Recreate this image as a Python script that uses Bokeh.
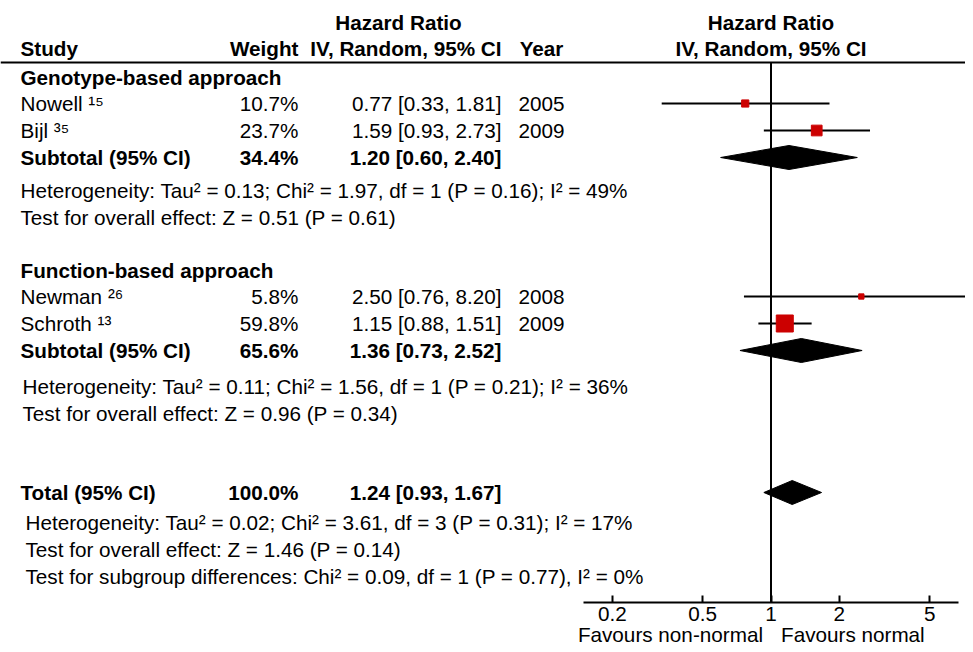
from bokeh.plotting import figure
from bokeh.layouts import column
from bokeh.models import (Range1d, LogScale, LogAxis, FixedTicker, NumeralTickFormatter, Span)
from bokeh.core.properties import value
from bokeh.embed import file_html
from bokeh.resources import INLINE

# ---------------- data ----------------
groups = ["Genotype-based approach", "Function-based approach"]
studies = ["Nowell", "Bijl", "Newman", "Schroth"]
refs = ["15", "35", "26", "13"]
weights = [10.7, 23.7, 5.8, 59.8]
hr = [0.77, 1.59, 2.50, 1.15]
lo = [0.33, 0.93, 0.76, 0.88]
hi = [1.81, 2.73, 8.20, 1.51]
years = ["2005", "2009", "2008", "2009"]

pooled_labels = ["Subtotal (95% CI)", "Subtotal (95% CI)", "Total (95% CI)"]
pooled_weights = [34.4, 65.6, 100.0]
pooled_hr = [1.20, 1.36, 1.24]
pooled_lo = [0.60, 0.73, 0.93]
pooled_hi = [2.40, 2.52, 1.67]

heterogeneity = [
    "Heterogeneity: Tau² = 0.13; Chi² = 1.97, df = 1 (P = 0.16); I² = 49%",
    "Heterogeneity: Tau² = 0.11; Chi² = 1.56, df = 1 (P = 0.21); I² = 36%",
    "Heterogeneity: Tau² = 0.02; Chi² = 3.61, df = 3 (P = 0.31); I² = 17%",
]
overall_effect = [
    "Test for overall effect: Z = 0.51 (P = 0.61)",
    "Test for overall effect: Z = 0.96 (P = 0.34)",
    "Test for overall effect: Z = 1.46 (P = 0.14)",
]
subgroup_test = "Test for subgroup differences: Chi² = 0.09, df = 1 (P = 0.77), I² = 0%"

tick_values = [0.2, 0.5, 1, 2, 5]
favours = ["Favours non-normal", "Favours normal"]

# ---------------- layout (screen-pixel coordinates) ----------------
W = 965
AXIS_Y = 602
X_ONE = 770.5
PX_DECADE = 227.0
FONT = value("Liberation Sans")
FS = value("20.7px")

y_title, y_head, y_rule = 22, 48, 62
y_group = [77, 270]
y_study = [103, 130, 296, 323]
y_pooled = [157, 350, 492]
y_het = [190, 386, 522]
y_test = [217, 413, 549]
y_sub = 576
x_het = [20, 22, 25]
half_diamond = 12

x_study, x_weight, x_ci, x_year = 20, 298, 501, 541

sup = str.maketrans("0123456789", "⁰¹²³⁴⁵⁶⁷⁸⁹")

hr_range = Range1d(10 ** ((0 - X_ONE) / PX_DECADE), 10 ** ((W - X_ONE) / PX_DECADE))

p = figure(frame_width=W, frame_height=AXIS_Y, output_backend="svg", toolbar_location=None,
           x_range=Range1d(0, W), y_range=Range1d(AXIS_Y, 0),
           x_axis_type=None, y_axis_type=None,
           min_border_left=0, min_border_right=0, min_border_top=0, min_border_bottom=0,
           outline_line_color=None)
p.background_fill_color = "white"
p.border_fill_color = "white"

p.extra_x_ranges = {"hr": hr_range}
p.extra_x_scales = {"hr": LogScale()}

axis = LogAxis(x_range_name="hr", ticker=FixedTicker(ticks=tick_values, minor_ticks=[]),
               formatter=NumeralTickFormatter(format="0.[0]"),
               bounds=(10 ** (-187.5 / PX_DECADE), 10 ** (187.5 / PX_DECADE)),
               major_tick_in=7, major_tick_out=0, minor_tick_line_color=None,
               axis_line_width=2, major_tick_line_width=2,
               major_label_text_font="Liberation Sans", major_label_text_font_size="20.7px",
               major_label_text_color="black", major_label_standoff=4)
p.add_layout(axis, "below")

def txt(fig, xs, ys, texts, align="left", bold=False, rng=None, **extra):
    kw = dict(x=xs, y=ys, text=texts, text_font=FONT, text_font_size=FS,
              text_align=align, text_baseline="middle", text_color="black",
              text_font_style="bold" if bold else "normal")
    if rng:
        kw["x_range_name"] = rng
    kw.update(extra)
    fig.text(**kw)

# headers
txt(p, [398], [y_title], ["Hazard Ratio"], "center", True)
txt(p, [x_study], [y_head], ["Study"], "left", True)
txt(p, [x_weight], [y_head], ["Weight"], "right", True)
txt(p, [x_ci], [y_head], ["IV, Random, 95% CI"], "right", True)
txt(p, [x_year], [y_head], ["Year"], "center", True)
txt(p, [1, 1], [y_title, y_head], ["Hazard Ratio", "IV, Random, 95% CI"], "center", True, "hr")
p.add_layout(Span(location=y_rule, dimension="width", line_color="black", line_width=2))

# group titles
txt(p, [x_study] * 2, y_group, groups, "left", True)

# study rows
txt(p, [x_study] * 4, y_study, [f"{s} {r.translate(sup)}" for s, r in zip(studies, refs)])
txt(p, [x_weight] * 4, y_study, [f"{w:.1f}%" for w in weights], "right")
txt(p, [x_ci] * 4, y_study, [f"{a:.2f} [{b:.2f}, {c:.2f}]" for a, b, c in zip(hr, lo, hi)], "right")
txt(p, [x_year] * 4, y_study, years, "center")

# pooled rows
txt(p, [x_study] * 3, y_pooled, pooled_labels, "left", True)
txt(p, [x_weight] * 3, y_pooled, [f"{w:.1f}%" for w in pooled_weights], "right", True)
txt(p, [x_ci] * 3, y_pooled,
    [f"{a:.2f} [{b:.2f}, {c:.2f}]" for a, b, c in zip(pooled_hr, pooled_lo, pooled_hi)],
    "right", True)

# heterogeneity / tests
txt(p, x_het, y_het, heterogeneity)
txt(p, x_het, y_test, overall_effect)
txt(p, [x_het[2]], [y_sub], [subgroup_test])

# forest: line of no effect
p.segment(x0=[1], x1=[1], y0=[y_rule], y1=[AXIS_Y], x_range_name="hr",
          line_color="black", line_width=2)

# CI lines and squares
p.segment(x0=lo, x1=hi, y0=y_study, y1=y_study, x_range_name="hr",
          line_color="black", line_width=2)
p.scatter(x=hr, y=y_study, marker="square", size=[2.2 * w ** 0.5 for w in weights],
          fill_color="#cc0000", line_color="#cc0000", x_range_name="hr")

# diamonds
p.patches(xs=[[a, b, c, b] for a, b, c in zip(pooled_lo, pooled_hr, pooled_hi)],
          ys=[[y, y - half_diamond, y, y + half_diamond] for y in y_pooled],
          fill_color="black", line_color="black", x_range_name="hr")

# favours strip below the axis (shares the hazard-ratio scale)
p2 = figure(frame_width=W, frame_height=22, output_backend="svg", toolbar_location=None,
            x_range=hr_range, y_range=Range1d(-1, 1), x_axis_type=None, y_axis_type=None,
            min_border_left=0, min_border_right=0, min_border_top=0, min_border_bottom=0,
            outline_line_color=None)
p2.x_scale = LogScale()
p2.grid.visible = False
txt(p2, [1], [0], [favours[0]], "right", x_offset=-8)
txt(p2, [1], [0], [favours[1]], "left", x_offset=10)

layout = column(p, p2, spacing=0)
open("out.html", "w").write(file_html(layout, INLINE))
